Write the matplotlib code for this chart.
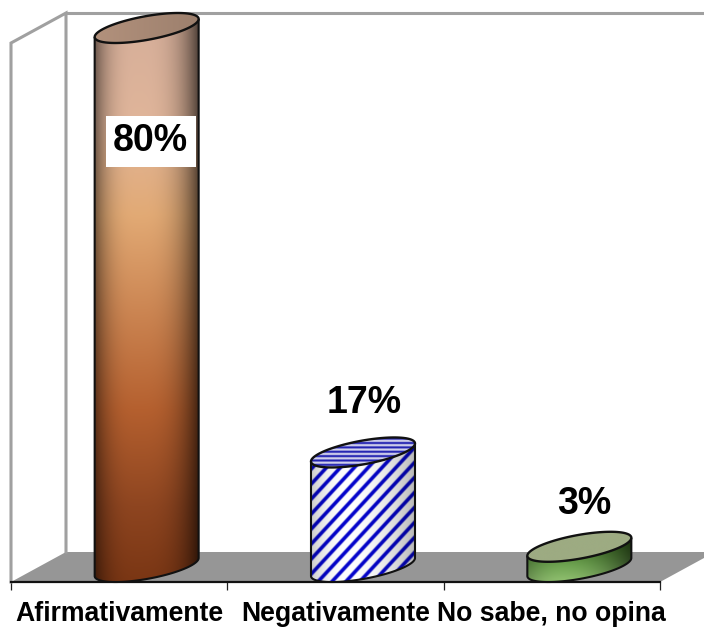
import numpy as np
import matplotlib
matplotlib.use("Agg")
import matplotlib.pyplot as plt
from matplotlib.patches import Polygon
from matplotlib.colors import to_rgb

plt.rcParams['font.family'] = ['Liberation Sans', 'DejaVu Sans']

categories = ["Afirmativamente", "Negativamente", "No sabe, no opina"]
values = [80, 17, 3]
value_labels = ["80%", "17%", "3%"]

W, H = 704, 627
fig = plt.figure(figsize=(W / 100, H / 100), dpi=100, facecolor="white")
ax = fig.add_axes([11 / W, (H - 582) / H, 649 / W, 539 / H])
ax.set_xlim(0, 3)
ax.set_ylim(0, 80)
ax.patch.set_alpha(0)

# pixel-per-unit scales of the axes
PX = 649 / 3
PY = 539 / 80
# oblique depth of the 3D box, in data units
DX, DY = 55 / PX, 30 / PY
# cylinder shape, in data units
HALF_W = 52 / PX
SHEAR = 9 / PY
MINOR = 12 / PY


def ellipse_pts(cx, cy, n=120):
    t = np.linspace(0, 2 * np.pi, n)
    return np.c_[cx + HALF_W * np.cos(t), cy + SHEAR * np.cos(t) + MINOR * np.sin(t)]


def lerp_stops(pos, stops):
    xs = [s[0] for s in stops]
    cols = np.array([to_rgb(s[1]) for s in stops])
    return np.stack([np.interp(pos, xs, cols[:, i]) for i in range(3)], axis=-1)


def side_shade(u, left=0.5, right=0.35, power=3.0, peak=0.42):
    # u runs 0..1 across the cylinder; dark only toward the two edges
    d = np.where(u < peak, (peak - u) / peak, (u - peak) / (1 - peak))
    edge = np.where(u < peak, left, right)
    return 1 - (1 - edge) * d ** power


def body_path(cx, top, base):
    t = np.linspace(np.pi, 2 * np.pi, 60)
    arc = np.c_[cx + HALF_W * np.cos(t), base + SHEAR * np.cos(t) + MINOR * np.sin(t)]
    # left side down, bottom arc, right side up
    return np.vstack([[cx - HALF_W, top - SHEAR], arc, [cx + HALF_W, top + SHEAR]])


def draw_texture(rgb, cx, y0, y1, pts, z):
    im = ax.imshow(rgb, extent=(cx - HALF_W, cx + HALF_W, y0, y1), origin="lower",
                   aspect="auto", interpolation="bilinear", zorder=z)
    im.set_clip_box(fig.bbox)
    im.set_clip_path(Polygon(pts, transform=ax.transData))


def draw_cylinder(cx, value, body_fn, cap_fn, z=5):
    base = DY / 2
    top = base + value
    pts = body_path(cx, top, base)
    y0, y1 = base - MINOR - SHEAR, top + MINOR + SHEAR
    nx, ny = 210, max(int((y1 - y0) * PY * 2), 40)
    u = (np.arange(nx) + 0.5) / nx
    yy = np.linspace(y0, y1, ny)
    U, Y = np.meshgrid(u, yy)
    draw_texture(body_fn(U, Y, base), cx, y0, y1, pts, z)
    ax.add_patch(Polygon(pts, closed=False, fill=False, ec="#111111", lw=1.5, zorder=z + 1, clip_on=False))

    cap = ellipse_pts(cx, top)
    cy0, cy1 = top - MINOR - SHEAR, top + MINOR + SHEAR
    ny2 = max(int((cy1 - cy0) * PY * 4), 40)
    U2, Y2 = np.meshgrid((np.arange(nx) + 0.5) / nx, np.linspace(cy0, cy1, ny2))
    draw_texture(cap_fn(U2, Y2), cx, cy0, cy1, cap, z + 2)
    ax.add_patch(Polygon(cap, closed=True, fill=False, ec="#111111", lw=1.7, zorder=z + 3, clip_on=False))


def brown_body(U, Y, base):
    col = lerp_stops(Y / 80, [(0, "#7a3614"), (0.14, "#8e4520"), (0.32, "#b5602f"),
                              (0.68, "#e2aa75"), (0.85, "#e0b59a"), (1, "#d8b09a")])
    return np.clip(col * side_shade(U)[..., None], 0, 1)


def brown_cap(U, Y):
    c = np.array(to_rgb("#b2917c"))
    return np.clip(c * (1 - 0.12 * U)[..., None] * np.ones(U.shape + (3,)), 0, 1)


def striped_body(U, Y, base):
    px = U * 104
    py = Y * PY
    phase = ((px * 1.08 - py) / 15.0) % 1.0
    band = np.clip(2.1 - np.abs(phase - 0.5) * 9.0, 0, 1)
    col = np.ones(U.shape + (3,)) * (1 - band[..., None]) + np.array(to_rgb("#0505cc")) * band[..., None]
    shade = side_shade(U, left=0.8, right=0.72, power=2.0, peak=0.35)
    return np.clip(col * shade[..., None], 0, 1)


def striped_cap(U, Y):
    py = Y * PY
    phase = (py / 4.4) % 1.0
    band = np.clip(1.7 - np.abs(phase - 0.5) * 5.0, 0, 1)
    col = np.array(to_rgb("#d4d4ec")) * (1 - band[..., None]) + np.array(to_rgb("#1f1fb0")) * band[..., None]
    return col


def green_body(U, Y, base):
    f = np.clip((Y - base + MINOR + SHEAR) / (3 + 2 * MINOR), 0, 1)
    col = lerp_stops(f, [(0, "#4a7f2e"), (0.18, "#8dbd6d"), (0.5, "#6fa452"), (1, "#3f7324")])
    return np.clip(col * side_shade(U, left=0.75, right=0.45, power=2.0, peak=0.35)[..., None], 0, 1)


def green_cap(U, Y):
    return np.ones(U.shape + (3,)) * np.array(to_rgb("#9dab82"))


# back wall, side wall and floor of the box
floor = [(0, 0), (3, 0), (3 + DX, DY), (DX, DY)]
ax.add_patch(Polygon(floor, closed=True, fc="#969696", ec="none", zorder=1, clip_on=False))
wall_c, wall_w = "#a0a0a0", 2.2
ax.plot([0, 0, DX, DX], [0, 80, 80 + DY, DY], color=wall_c, lw=wall_w, zorder=2, clip_on=False,
        solid_joinstyle="miter")
ax.plot([DX, 3.4], [80 + DY, 80 + DY], color=wall_c, lw=wall_w, zorder=2, clip_on=False)

body_fns = [brown_body, striped_body, green_body]
cap_fns = [brown_cap, striped_cap, green_cap]
centers = np.arange(len(categories)) + 0.5 + DX / 2
for x, v, bf, cf in zip(centers, values, body_fns, cap_fns):
    draw_cylinder(x, v, bf, cf)

ax.set_xlim(0, 3)
ax.set_ylim(0, 80)

# percentage labels, offset in pixels from the top of each cylinder
label_offsets = [(4, -113.5), (1, 49), (5, 43)]
for i, (x, v, s, off) in enumerate(zip(centers, values, value_labels, label_offsets)):
    t = ax.annotate(s, xy=(x, v + DY / 2), xytext=(off[0] * 0.72, off[1] * 0.72), textcoords="offset points",
                    ha="center", va="center", fontsize=27, fontweight="bold", color="black", zorder=12,
                    annotation_clip=False)
    if i == 0:
        t.set_bbox(dict(boxstyle="square,pad=0.2", fc="white", ec="none"))

# category axis: ticks on band edges, labels in band centres
for s in ["top", "left", "right"]:
    ax.spines[s].set_visible(False)
ax.spines["bottom"].set_linewidth(1.6)
ax.spines["bottom"].set_color("#111111")
ax.spines["bottom"].set_zorder(4)
ax.set_yticks([])
ax.set_xticks([0, 1, 2, 3])
ax.set_xticklabels([])
ax.tick_params(axis="x", which="major", length=6, width=0.9, color="#222222")
ax.set_xticks(np.arange(3) + 0.5, minor=True)
ax.set_xticklabels(categories, minor=True, fontsize=19.2, fontweight="bold", color="black")
ax.tick_params(axis="x", which="minor", length=0, pad=13.5)

fig.savefig("out.png", dpi=100, facecolor="white")
